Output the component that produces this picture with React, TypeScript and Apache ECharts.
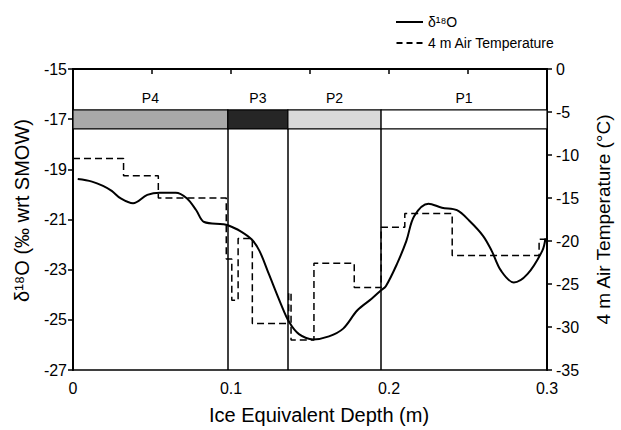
import React, { useEffect, useRef } from "react";
import * as echarts from "echarts";

// δ18O profile (depth m, ‰)
const depthO18 = [0.003, 0.012, 0.019, 0.0245, 0.03, 0.038, 0.047, 0.055, 0.065, 0.072, 0.078, 0.083, 0.095, 0.098, 0.1056, 0.113, 0.118, 0.124, 0.1316, 0.137, 0.143, 0.152, 0.162, 0.171, 0.18, 0.189, 0.195, 0.198, 0.205, 0.211, 0.216, 0.225, 0.2335, 0.243, 0.251, 0.2595, 0.265, 0.271, 0.279, 0.2876, 0.297, 0.299];
const valuesO18 = [-19.39, -19.49, -19.66, -19.86, -20.15, -20.35, -20.02, -19.93, -19.93, -20.15, -20.63, -21.1, -21.19, -21.23, -21.45, -21.79, -22.25, -23.18, -24.37, -25.11, -25.57, -25.78, -25.66, -25.35, -24.62, -24.16, -23.82, -23.66, -22.78, -21.85, -20.86, -20.37, -20.53, -20.63, -21.06, -21.65, -22.25, -23.05, -23.51, -23.18, -22.25, -21.75];

// 4 m air temperature step profile: interval edges (m) and value per interval (°C)
const tempEdges = [0, 0.032, 0.054, 0.097, 0.1005, 0.1045, 0.1135, 0.1365, 0.138, 0.1525, 0.178, 0.195, 0.21, 0.24, 0.295, 0.3];
const tempValues = [-10.4, -12.4, -15.0, -22.1, -26.9, -19.7, -29.6, -26.0, -31.5, -22.6, -25.4, -18.4, -16.8, -21.7, -19.8];

// Periods
const periodNames = ["P4", "P3", "P2", "P1"];
const periodEdges = [0, 0.098, 0.136, 0.195, 0.3];
const stripTop = -16.63;
const stripBottom = -17.39;

const xTickLabels = ["0", "0.1", "0.2", "0.3"];
const seriesNames = ["δ¹⁸O", "4 m Air Temperature"];

const periodColors = ["#a9a9a9", "#262626", "#d9d9d9", "#ffffff"];

const FONT = "'Liberation Sans', Arial, Helvetica, sans-serif";

export default function App() {
  const ref = useRef<HTMLDivElement>(null);

  useEffect(() => {
    if (!ref.current) return;
    const chart = echarts.init(ref.current, null, { renderer: "svg" });

    const o18Data = depthO18.map((d, i) => [d, valuesO18[i]]);
    const tempData: number[][] = [];
    tempValues.forEach((v, i) => {
      tempData.push([tempEdges[i], v]);
      tempData.push([tempEdges[i + 1], v]);
    });

    const areas = periodNames.map((name, i) => [
      {
        name,
        coord: [periodEdges[i], stripTop],
        itemStyle: { color: periodColors[i], borderColor: "#000", borderWidth: 1.2 },
      },
      { coord: [periodEdges[i + 1], stripBottom] },
    ]);

    const vlines = periodEdges.slice(1, 4).map((e) => [
      { coord: [e, stripBottom] },
      { coord: [e, -27] },
    ]);

    chart.setOption({
      animation: false,
      textStyle: { fontFamily: FONT, color: "#000" },
      grid: {
        left: 73,
        right: 66,
        top: 69,
        bottom: 58,
        show: true,
        borderColor: "#000",
        borderWidth: 1.5,
        backgroundColor: "transparent",
      },
      legend: {
        orient: "vertical",
        left: 396,
        top: 14,
        padding: 0,
        itemWidth: 27,
        itemHeight: 2,
        itemGap: 5,
        textStyle: { fontFamily: FONT, fontSize: 14, lineHeight: 16, color: "#000" },
        data: [
          { name: seriesNames[0], icon: "path://M0,0h27v2h-27z" },
          { name: seriesNames[1], icon: "path://M0,0h6v2h-6z M10,0h6v2h-6z M20,0h6v2h-6z" },
        ],
        itemStyle: { color: "#000", borderWidth: 0 },
      },
      xAxis: {
        type: "value",
        min: 0,
        max: 0.3,
        interval: 0.1,
        name: "Ice Equivalent Depth (m)",
        nameLocation: "middle",
        nameGap: 35,
        nameTextStyle: { fontSize: 20, fontFamily: FONT, color: "#000", padding: [0, 0, 0, 18] },
        axisLine: { show: true, lineStyle: { color: "#000", width: 2 } },
        axisTick: { show: true, length: 5, lineStyle: { color: "#000", width: 1.5 } },
        minorTick: { show: true, splitNumber: 2, length: 5, lineStyle: { color: "#000", width: 1.5 } },
        splitLine: { show: false },
        axisLabel: {
          fontSize: 16,
          color: "#000",
          fontFamily: FONT,
          margin: 10,
          formatter: (v: number) => {
            const idx = Math.round(v / 0.1);
            return xTickLabels[idx] ?? "";
          },
        },
      },
      yAxis: [
        {
          type: "value",
          min: -27,
          max: -15,
          interval: 2,
          position: "left",
          name: "δ¹⁸O (‰ wrt SMOW)",
          nameLocation: "middle",
          nameRotate: 90,
          nameGap: 41,
          nameTextStyle: { fontSize: 20, fontFamily: FONT, color: "#000", padding: [0, 0, 0, 18] },
          axisLine: { show: true, lineStyle: { color: "#000", width: 2 } },
          axisTick: { show: true, length: 5, lineStyle: { color: "#000", width: 1.5 } },
          splitLine: { show: false },
          axisLabel: { fontSize: 16, color: "#000", fontFamily: FONT, margin: 6 },
        },
        {
          type: "value",
          min: -35,
          max: 0,
          interval: 5,
          position: "right",
          name: "4 m Air Temperature (°C)",
          nameLocation: "middle",
          nameRotate: 90,
          nameGap: 47,
          nameTextStyle: { fontSize: 19, fontFamily: FONT, color: "#000" },
          axisLine: { show: true, lineStyle: { color: "#000", width: 2 } },
          axisTick: { show: true, length: 5, lineStyle: { color: "#000", width: 1.5 } },
          splitLine: { show: false },
          axisLabel: { fontSize: 16, color: "#000", fontFamily: FONT, margin: 9 },
        },
      ],
      series: [
        {
          name: seriesNames[0],
          type: "line",
          yAxisIndex: 0,
          data: o18Data,
          smooth: 0.35,
          showSymbol: false,
          symbol: "none",
          lineStyle: { color: "#000", width: 2 },
          itemStyle: { color: "#000" },
          z: 5,
          markArea: {
            silent: true,
            label: {
              show: true,
              position: "top",
              distance: 4,
              fontSize: 14,
              color: "#000",
              fontFamily: FONT,
            },
            data: areas,
          },
          markLine: {
            silent: true,
            symbol: "none",
            label: { show: false },
            lineStyle: { color: "#000", width: 1.5, type: "solid" },
            data: vlines,
          },
        },
        {
          name: seriesNames[1],
          type: "line",
          yAxisIndex: 1,
          data: tempData,
          showSymbol: false,
          symbol: "none",
          lineStyle: { color: "#000", width: 1.5, type: [7, 4] },
          itemStyle: { color: "#000" },
          z: 4,
        },
      ],
    });

    return () => chart.dispose();
  }, []);

  return (
    <div
      ref={ref}
      style={{ position: "fixed", left: 0, top: 0, width: 621, height: 430, background: "#fff" }}
    />
  );
}
